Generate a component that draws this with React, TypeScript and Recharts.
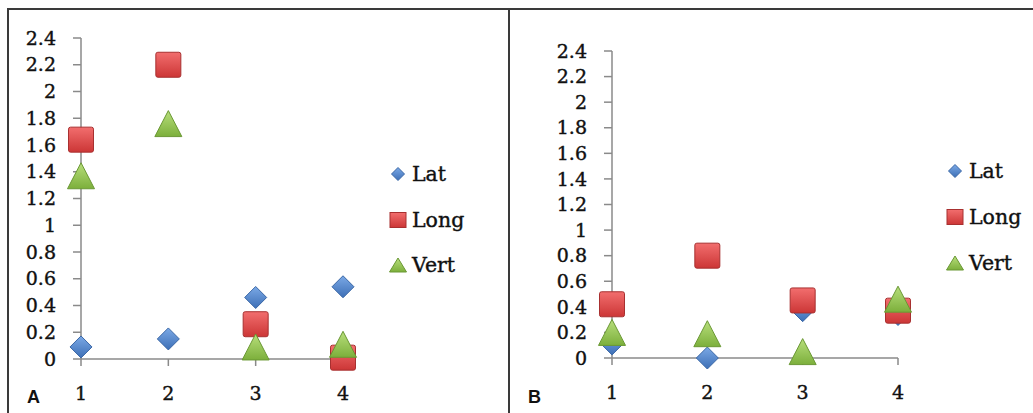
import { ScatterChart, Scatter, XAxis, YAxis } from "recharts";

const categories = [1, 2, 3, 4];
const yTicks = [0, 0.2, 0.4, 0.6, 0.8, 1, 1.2, 1.4, 1.6, 1.8, 2, 2.2, 2.4];
const seriesNames = ["Lat", "Long", "Vert"];

// panel A
const latA = [0.09, 0.15, 0.46, 0.54];
const longA = [1.64, 2.2, 0.26, 0.01];
const vertA = [1.37, 1.76, 0.09, 0.11];

// panel B
const latB = [0.11, 0, 0.37, 0.34];
const longB = [0.42, 0.8, 0.45, 0.37];
const vertB = [0.2, 0.19, 0.05, 0.46];

const serif = "'DejaVu Serif', serif";
const axisStroke = { stroke: "#8a8a8a", strokeWidth: 1.5 };
const tickText = { fill: "#111", stroke: "#111", strokeWidth: 0.4, fontSize: 19, fontFamily: serif };

const Diamond = (p: any) => {
  const { cx, cy } = p;
  const r = 11;
  return (
    <path
      d={`M${cx},${cy - r}L${cx + r},${cy}L${cx},${cy + r}L${cx - r},${cy}Z`}
      fill="url(#gBlue)"
      stroke="#3a67a6"
      strokeWidth={1}
    />
  );
};

const Square = (p: any) => {
  const { cx, cy } = p;
  return (
    <rect
      x={cx - 12.5}
      y={cy - 12.5}
      width={25}
      height={25}
      rx={2}
      fill="url(#gRed)"
      stroke="#a83030"
      strokeWidth={1}
    />
  );
};

const Triangle = (p: any) => {
  const { cx, cy } = p;
  return (
    <path
      d={`M${cx},${cy - 13}L${cx + 13.5},${cy + 13}L${cx - 13.5},${cy + 13}Z`}
      fill="url(#gGreen)"
      stroke="#6a9834"
      strokeWidth={1}
    />
  );
};

const toPoints = (vals: number[]) => categories.map((x, i) => ({ x, y: vals[i] }));

type PanelProps = {
  left: number;
  width: number;
  top: number;
  bottom: number;
  plotLeft: number;
  right: number;
  lat: number[];
  long: number[];
  vert: number[];
};

const Panel = ({ left, width, top, bottom, plotLeft, right, lat, long, vert }: PanelProps) => (
  <div style={{ position: "absolute", left, top: 0 }}>
    <ScatterChart
      width={width}
      height={413}
      margin={{ top, right, bottom: bottom - 40, left: 0 }}
    >
      <XAxis
        type="number"
        dataKey="x"
        domain={[1, 4]}
        ticks={categories}
        interval={0}
        height={40}
        tickSize={7}
        tickMargin={21}
        axisLine={axisStroke}
        tickLine={axisStroke}
        tick={tickText}
      />
      <YAxis
        type="number"
        dataKey="y"
        domain={[0, 2.4]}
        ticks={yTicks}
        interval={0}
        width={plotLeft}
        tickSize={8}
        tickMargin={17}
        axisLine={axisStroke}
        tickLine={axisStroke}
        tick={tickText}
      />
      <Scatter name={seriesNames[0]} data={toPoints(lat)} shape={Diamond} isAnimationActive={false} />
      <Scatter name={seriesNames[1]} data={toPoints(long)} shape={Square} isAnimationActive={false} />
      <Scatter name={seriesNames[2]} data={toPoints(vert)} shape={Triangle} isAnimationActive={false} />
    </ScatterChart>
  </div>
);

const LegendBlock = ({ x, baselines }: { x: number; baselines: number[] }) => (
  <g>
    {seriesNames.map((name, i) => {
      const cy = baselines[i] - 7;
      let icon;
      if (i === 0)
        icon = (
          <path
            d={`M${x},${cy - 6.5}L${x + 6.5},${cy}L${x},${cy + 6.5}L${x - 6.5},${cy}Z`}
            fill="url(#gBlue)"
            stroke="#3a67a6"
          />
        );
      else if (i === 1)
        icon = <rect x={x - 8} y={cy - 7.5} width={16} height={15} fill="url(#gRed)" stroke="#a83030" />;
      else
        icon = (
          <path
            d={`M${x},${cy - 7}L${x + 8.5},${cy + 7}L${x - 8.5},${cy + 7}Z`}
            fill="url(#gGreen)"
            stroke="#6a9834"
          />
        );
      return (
        <g key={name}>
          {icon}
          <text
            x={x + 14}
            y={baselines[i]}
            fontFamily={serif}
            fontSize={20.5}
            fill="#111"
            stroke="#111"
            strokeWidth={0.4}
          >
            {name}
          </text>
        </g>
      );
    })}
  </g>
);

export default function App() {
  return (
    <div
      style={{
        position: "fixed",
        left: 0,
        top: 0,
        width: 1033,
        height: 413,
        background: "#fff",
        overflow: "hidden",
      }}
    >
      <svg width={0} height={0} style={{ position: "absolute" }}>
        <defs>
          <linearGradient id="gBlue" x1="0" y1="0" x2="0" y2="1">
            <stop offset="0%" stopColor="#7ba9e6" />
            <stop offset="100%" stopColor="#3d6fb6" />
          </linearGradient>
          <linearGradient id="gRed" x1="0" y1="0" x2="0" y2="1">
            <stop offset="0%" stopColor="#f26e6e" />
            <stop offset="100%" stopColor="#cc3636" />
          </linearGradient>
          <linearGradient id="gGreen" x1="0" y1="0" x2="0" y2="1">
            <stop offset="0%" stopColor="#b8df7c" />
            <stop offset="100%" stopColor="#7caf3b" />
          </linearGradient>
        </defs>
      </svg>

      <Panel left={0} width={509} top={38} bottom={54} plotLeft={81} right={166} lat={latA} long={longA} vert={vertA} />
      <Panel left={509} width={524} top={51} bottom={55} plotLeft={103} right={135} lat={latB} long={longB} vert={vertB} />

      <svg
        width={1033}
        height={413}
        style={{ position: "absolute", left: 0, top: 0, pointerEvents: "none" }}
      >
        <LegendBlock x={398} baselines={[181, 227, 272]} />
        <LegendBlock x={955} baselines={[178, 224, 270]} />
        <text x={27} y={403} fontFamily="'Liberation Sans', Arial, sans-serif" fontWeight="bold" fontSize={18} fill="#111">
          A
        </text>
        <text x={528} y={403} fontFamily="'Liberation Sans', Arial, sans-serif" fontWeight="bold" fontSize={18} fill="#111">
          B
        </text>
        <line x1={8} y1={9} x2={1033} y2={9} stroke="#3a3a3a" strokeWidth={2} />
        <line x1={8} y1={8} x2={8} y2={413} stroke="#3a3a3a" strokeWidth={2} />
        <line x1={509} y1={8} x2={509} y2={413} stroke="#3a3a3a" strokeWidth={2} />
      </svg>
    </div>
  );
}
